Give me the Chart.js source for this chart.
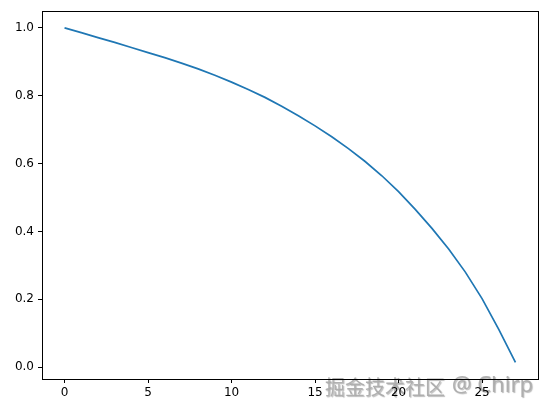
<!DOCTYPE html>
<html>
<head>
<meta charset="utf-8">
<script src="https://cdn.jsdelivr.net/npm/chart.js@4.4.0/dist/chart.umd.min.js"></script>
<style>
  html, body { margin: 0; padding: 0; background: #fff; }
  #wrap { width: 547px; height: 413px; }
</style>
</head>
<body>
<div id="wrap"><canvas id="chart1" width="547" height="413"></canvas></div>
<script>
// Datos
const xValues = [0, 1, 2, 3, 4, 5, 6, 7, 8, 9, 10, 11, 12, 13, 14, 15, 16, 17, 18, 19, 20, 21, 22, 23, 24, 25, 26, 27];
const yValues = [1.000, 0.986, 0.971, 0.957, 0.942, 0.927, 0.912, 0.896, 0.879, 0.860,
                 0.840, 0.818, 0.795, 0.769, 0.741, 0.711, 0.679, 0.644, 0.606, 0.564,
                 0.517, 0.465, 0.409, 0.348, 0.280, 0.202, 0.111, 0.014];
const xTicks = [0, 5, 10, 15, 20, 25];
const yTicks = [0.0, 0.2, 0.4, 0.6, 0.8, 1.0];
const watermarkCjk = '掘金技术社区';
const watermarkLatin = '@ Chirp';

const tickFont = { family: 'DejaVu Sans', size: 12 };

// Marco completo alrededor del área del gráfico + marca de agua
const framePlugin = {
  id: 'frame',
  beforeDraw(chart) {
    const ctx = chart.ctx;
    ctx.save();
    ctx.textBaseline = 'middle';
    ctx.shadowColor = 'rgba(0,0,0,0.3)';
    ctx.shadowOffsetX = 1;
    ctx.shadowOffsetY = 1;
    ctx.shadowBlur = 1;
    ctx.fillStyle = 'rgba(170,170,170,0.9)';
    ctx.font = '20px "Noto Sans CJK SC"';
    ctx.textAlign = 'left';
    ctx.fillText(watermarkCjk, 325, 387);
    ctx.font = '22px "Noto Sans"';
    ctx.textAlign = 'right';
    ctx.fillText(watermarkLatin, 533, 386);
    ctx.restore();
  },
  afterDraw(chart) {
    const { ctx, chartArea: a } = chart;
    ctx.save();
    ctx.strokeStyle = '#000';
    ctx.lineWidth = 1;
    ctx.strokeRect(Math.round(a.left) + 0.5, Math.round(a.top) + 0.5,
                   Math.round(a.right - a.left), Math.round(a.bottom - a.top));
    ctx.restore();
  }
};

const chart1Config = {
  type: 'line',
  data: {
    datasets: [{
      data: xValues.map((x, i) => ({ x: x, y: yValues[i] })),
      borderColor: '#1f77b4',
      borderWidth: 1.7,
      pointRadius: 0,
      tension: 0,
      fill: false
    }]
  },
  options: {
    responsive: false,
    animation: false,
    layout: { padding: { left: 0, right: 9, top: 11, bottom: 0 } },
    plugins: {
      legend: { display: false },
      tooltip: { enabled: false }
    },
    scales: {
      x: {
        type: 'linear',
        min: -1.35,
        max: 28.35,
        afterBuildTicks(scale) { scale.ticks = xTicks.map(v => ({ value: v })); },
        afterFit(scale) { scale.height = 34; },
        grid: { drawOnChartArea: false, tickLength: 4, color: '#000', tickColor: '#000' },
        border: { color: '#000', width: 1 },
        ticks: { color: '#000', font: tickFont, padding: 3, maxRotation: 0 }
      },
      y: {
        min: -0.035,
        max: 1.049,
        afterBuildTicks(scale) { scale.ticks = yTicks.map(v => ({ value: v })); },
        afterFit(scale) { scale.width = 42; },
        grid: { drawOnChartArea: false, tickLength: 4, color: '#000', tickColor: '#000' },
        border: { color: '#000', width: 1 },
        ticks: { color: '#000', font: tickFont, padding: 4, callback: v => v.toFixed(1) }
      }
    }
  },
  plugins: [framePlugin]
};

function renderCharts() {
  const chart1Canvas = document.getElementById('chart1');
  const chart1 = new Chart(chart1Canvas, chart1Config);
}

renderCharts();
</script>
</body>
</html>
